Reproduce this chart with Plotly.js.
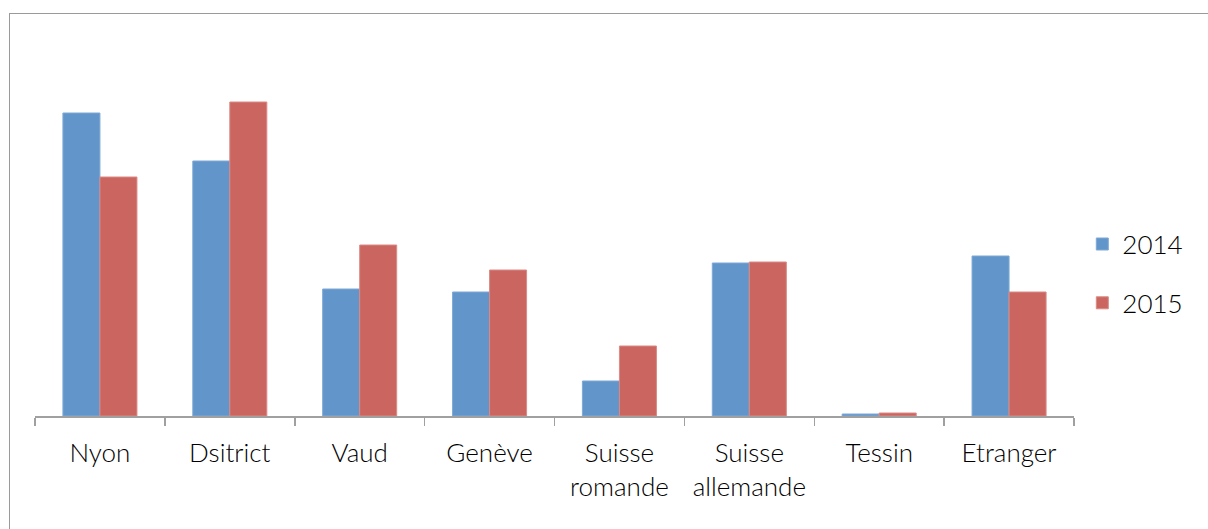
<!DOCTYPE html>
<html>
<head>
<meta charset="utf-8">
<script src="https://cdn.plot.ly/plotly-3.0.1.min.js"></script>
<style>
html,body{margin:0;padding:0;overflow:hidden;background:#fff;width:1208px;height:529px;}
#frame{position:absolute;left:9px;top:13px;width:1400px;height:700px;border:1.5px solid #9a9a9a;box-sizing:border-box;pointer-events:none;}
#chart{position:absolute;left:0;top:0;width:1208px;height:529px;}
</style>
</head>
<body>
<div id="chart"></div>
<div id="frame"></div>
<script>
const categories = ["Nyon", "Dsitrict", "Vaud", "Genève", "Suisse<br>romande", "Suisse<br>allemande", "Tessin", "Etranger"];
const values2014 = [303, 255, 127, 124, 35, 153, 2, 160];
const values2015 = [239, 314, 171, 146, 70, 154, 3, 124];
const seriesNames = ["2014", "2015"];

const traces = [
  {type: "bar", name: seriesNames[0], x: categories, y: values2014, legendgroup: "a",
   marker: {color: "#6295C9", line: {color: "#7FA9D6", width: 1}}},
  {type: "bar", name: seriesNames[1], x: categories, y: values2015, legendgroup: "b",
   marker: {color: "#CB6560", line: {color: "#DA8A86", width: 1}}}
];

const layout = {
  width: 1208, height: 529,
  margin: {l: 35, r: 134, t: 16, b: 113},
  paper_bgcolor: "#ffffff", plot_bgcolor: "#ffffff",
  font: {family: "Lato, 'Noto Sans', sans-serif", size: 26, color: "#000000", weight: 300},
  barmode: "group", bargap: 0.43, bargroupgap: 0,
  showlegend: true,
  legend: {x: 1.008, xanchor: "left", y: 0.356, yanchor: "middle", tracegroupgap: 22,
           font: {size: 26, color: "#000000", weight: 300}, bgcolor: "rgba(0,0,0,0)"},
  xaxis: {type: "category", showline: true, linecolor: "#a0a0a0", linewidth: 1.5,
          ticks: "outside", tickson: "boundaries", ticklen: 8, tickwidth: 1.5, tickcolor: "#a0a0a0",
          showgrid: false, zeroline: false, fixedrange: true,
          tickfont: {size: 26, color: "#000000", weight: 300}, ticklabelstandoff: 13},
  yaxis: {range: [0, 400], visible: false, showgrid: false, zeroline: false, fixedrange: true}
};

Plotly.newPlot("chart", traces, layout, {displayModeBar: false, staticPlot: true});
</script>
</body>
</html>
